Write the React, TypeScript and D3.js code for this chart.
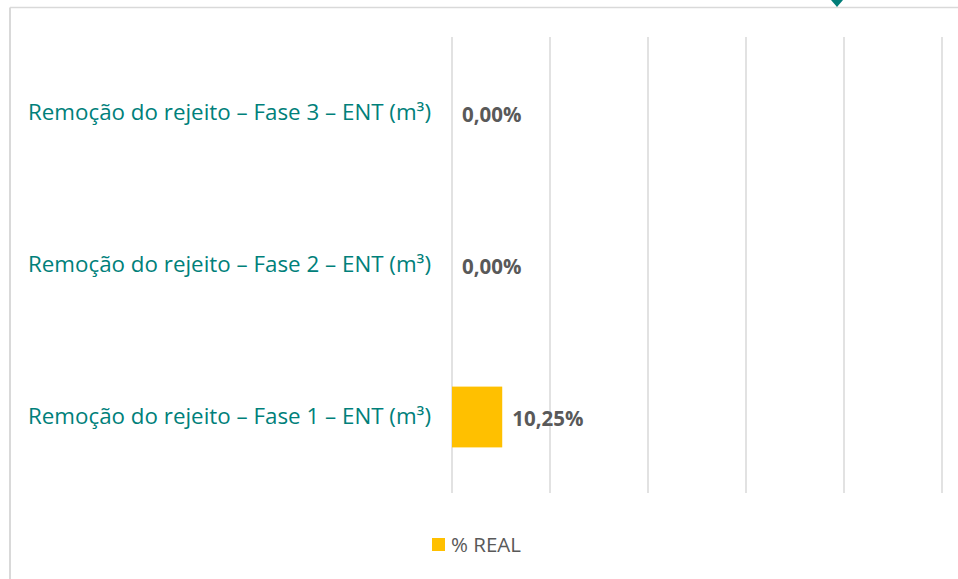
import React from "react";
import * as d3 from "d3";

const categories = [
  "Remoção do rejeito – Fase 3 – ENT (m³)",
  "Remoção do rejeito – Fase 2 – ENT (m³)",
  "Remoção do rejeito – Fase 1 – ENT (m³)",
];
const values = [0, 0, 10.25];
const ticks = [0, 20, 40, 60, 80, 100];
const seriesName = "% REAL";

const W = 958;
const H = 579;
const TEAL = "#00807a";
const GOLD = "#FFC000";
const GRAY = "#595959";
const GRID = "#d9d9d9";
const FONT = "'Open Sans', sans-serif";

export default function App() {
  const x = d3.scaleLinear().domain([0, 100]).range([452, 942]);
  const y = d3.scaleBand<string>().domain(categories).range([37, 493]).paddingInner(0.6).paddingOuter(0.3);
  const fmt = (v: number) => v.toFixed(2).replace(".", ",") + "%";
  const bw = y.bandwidth();
  return (
    <svg width={W} height={H} style={{ position: "absolute", left: 0, top: 0 }}>
      <rect x={0} y={0} width={W} height={H} fill="#fff" />
      <line x1={10} x2={W} y1={7.5} y2={7.5} stroke={GRID} strokeWidth={1.5} />
      <line x1={10} x2={10} y1={7.5} y2={H} stroke={GRID} strokeWidth={2} />
      <path d="M831,0 L843,0 L837,7 Z" fill="#007d78" />
      {ticks.map((t) => (
        <line key={t} x1={x(t)} x2={x(t)} y1={37} y2={493} stroke={GRID} strokeWidth={1.5} />
      ))}
      {categories.map((c, i) => {
        const cy = (y(c) as number) + bw / 2;
        return (
          <g key={c}>
            <rect x={x(0)} y={y(c) as number} width={x(values[i]) - x(0)} height={bw} fill={GOLD} />
            <text x={431} y={cy + 6.5} textAnchor="end" fill={TEAL} fontFamily={FONT} fontSize={21.5}
              textLength={403} lengthAdjust="spacingAndGlyphs">
              {c}
            </text>
            <text x={x(values[i]) + 10} y={cy + 9} fill={GRAY} fontFamily={FONT} fontSize={20.5} fontWeight="bold">
              {fmt(values[i])}
            </text>
          </g>
        );
      })}
      <rect x={432} y={538} width={13} height={13} fill={GOLD} />
      <text x={451} y={552} fill={GRAY} fontFamily={FONT} fontSize={20.5}>
        {seriesName}
      </text>
    </svg>
  );
}
